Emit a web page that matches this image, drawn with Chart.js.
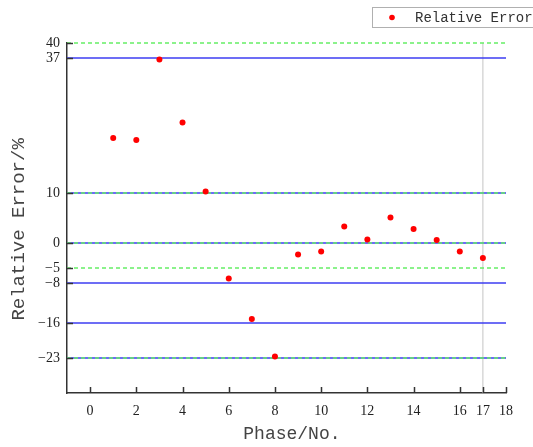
<!DOCTYPE html>
<html>
<head>
<meta charset="utf-8">
<script src="https://cdn.jsdelivr.net/npm/chart.js@4.4.1/dist/chart.umd.min.js"></script>
<style>
	html, body { margin: 0; padding: 0; background: #fff; }
	#wrap { width: 533px; height: 447px; }
</style>
</head>
<body>
<div id="wrap"><canvas id="errorChart"></canvas></div>
<script>
// relative error per phase
var phases = [1, 2, 3, 4, 5, 6, 7, 8, 9, 10, 11, 12, 13, 14, 15, 16, 17];
var relErrors = [21, 20.6, 36.7, 24.1, 10.3, -7.1, -15.2, -22.7, -2.3, -1.7, 3.3, 0.7, 5.1, 2.8, 0.6, -1.7, -3.0];

// reference levels
var solidLevels = [37, 10, 0, -8, -16, -23];
var dashedLevels = [40, 10, 0, -5, -23];
var markerPhase = 17;

var xTicks = [0, 2, 4, 6, 8, 10, 12, 14, 16, 17, 18];
var yTicks = [40, 37, 10, 0, -5, -8, -16, -23];

var X_MIN = -1, X_MAX = 18, Y_MIN = -30, Y_MAX = 40;

function levelLine(v, color, dash) {
	return {
		label: '',
		data: [{ x: X_MIN, y: v }, { x: X_MAX, y: v }],
		borderColor: color,
		borderWidth: 1.3,
		borderDash: dash,
		pointRadius: 0,
		showLine: true,
		fill: false,
		clip: 4
	};
}

var datasets = [{
	label: 'Relative Error',
	data: phases.map(function (p, i) { return { x: p, y: relErrors[i] }; }),
	backgroundColor: '#ff0000',
	borderColor: '#ff0000',
	pointRadius: 3,
	pointBorderWidth: 0,
	showLine: false,
	order: 0
}];

datasets.push({
	label: '',
	data: [{ x: markerPhase, y: Y_MIN }, { x: markerPhase, y: Y_MAX }],
	borderColor: '#c4c4c4',
	borderWidth: 1,
	pointRadius: 0,
	showLine: true,
	order: 3
});
solidLevels.forEach(function (v) {
	var d = levelLine(v, '#3c3cf2', []);
	d.order = 2;
	datasets.push(d);
});
dashedLevels.forEach(function (v) {
	var d = levelLine(v, '#66ee66', [4, 3]);
	d.order = 1;
	datasets.push(d);
});

function minusLabel(v) {
	return v < 0 ? '\u2212' + Math.abs(v) : String(v);
}

// inward tick marks plus the boxed legend
var framePlugin = {
	id: 'frame',
	afterDraw: function (chart) {
		var ctx = chart.ctx;
		var area = chart.chartArea;
		var xs = chart.scales.x, ys = chart.scales.y;
		ctx.save();
		ctx.strokeStyle = '#333';
		ctx.lineWidth = 1.5;
		ctx.beginPath();
		xs.ticks.forEach(function (t) {
			var px = Math.round(xs.getPixelForValue(t.value)) + 0.5;
			ctx.moveTo(px, area.bottom);
			ctx.lineTo(px, area.bottom - 6);
		});
		ys.ticks.forEach(function (t) {
			var py = Math.round(ys.getPixelForValue(t.value)) + 0.5;
			ctx.moveTo(area.left, py);
			ctx.lineTo(area.left + 6, py);
		});
		ctx.stroke();

		var ds = chart.data.datasets[0];
		ctx.strokeStyle = '#b0b0b0';
		ctx.lineWidth = 1;
		ctx.strokeRect(372.5, 7.5, 200, 20);
		ctx.fillStyle = ds.backgroundColor;
		ctx.beginPath();
		ctx.arc(392, 17.5, 2.8, 0, Math.PI * 2);
		ctx.fill();
		ctx.fillStyle = '#333';
		ctx.font = '14px "Liberation Mono"';
		ctx.textBaseline = 'middle';
		ctx.fillText(ds.label, 415, 18);
		ctx.restore();
	}
};

new Chart(document.getElementById('errorChart'), {
	type: 'scatter',
	data: { datasets: datasets },
	options: {
		responsive: true,
		maintainAspectRatio: false,
		animation: false,
		layout: { padding: { top: 43, right: 27, left: 0, bottom: 0 } },
		plugins: {
			legend: { display: false },
			tooltip: { enabled: false }
		},
		scales: {
			x: {
				type: 'linear',
				min: X_MIN,
				max: X_MAX,
				afterBuildTicks: function (scale) {
					scale.ticks = xTicks.map(function (v) { return { value: v }; });
				},
				afterFit: function (scale) { scale.height = 54; },
				grid: { display: false, drawTicks: false },
				border: { display: true, color: '#333', width: 1.5 },
				ticks: {
					color: '#222',
					padding: 10,
					maxRotation: 0,
					autoSkip: false,
					font: { family: 'Liberation Serif', size: 14 },
					callback: minusLabel
				},
				title: {
					display: true,
					text: ' Phase/No.',
					color: '#444',
					font: { family: 'Liberation Mono', size: 18 },
					padding: { top: 0, bottom: 2 }
				}
			},
			y: {
				type: 'linear',
				min: Y_MIN,
				max: Y_MAX,
				afterBuildTicks: function (scale) {
					scale.ticks = yTicks.map(function (v) { return { value: v }; });
				},
				afterFit: function (scale) { scale.width = 67; },
				grid: { display: false, drawTicks: false },
				border: { display: true, color: '#333', width: 1.5 },
				ticks: {
					color: '#222',
					padding: 7,
					autoSkip: false,
					font: { family: 'Liberation Serif', size: 14 },
					callback: minusLabel
				},
				title: {
					display: true,
					text: 'Relative Error/%  ',
					color: '#444',
					font: { family: 'Liberation Mono', size: 19 },
					padding: { top: 8, bottom: 0 }
				}
			}
		}
	},
	plugins: [framePlugin]
});
</script>
</body>
</html>
